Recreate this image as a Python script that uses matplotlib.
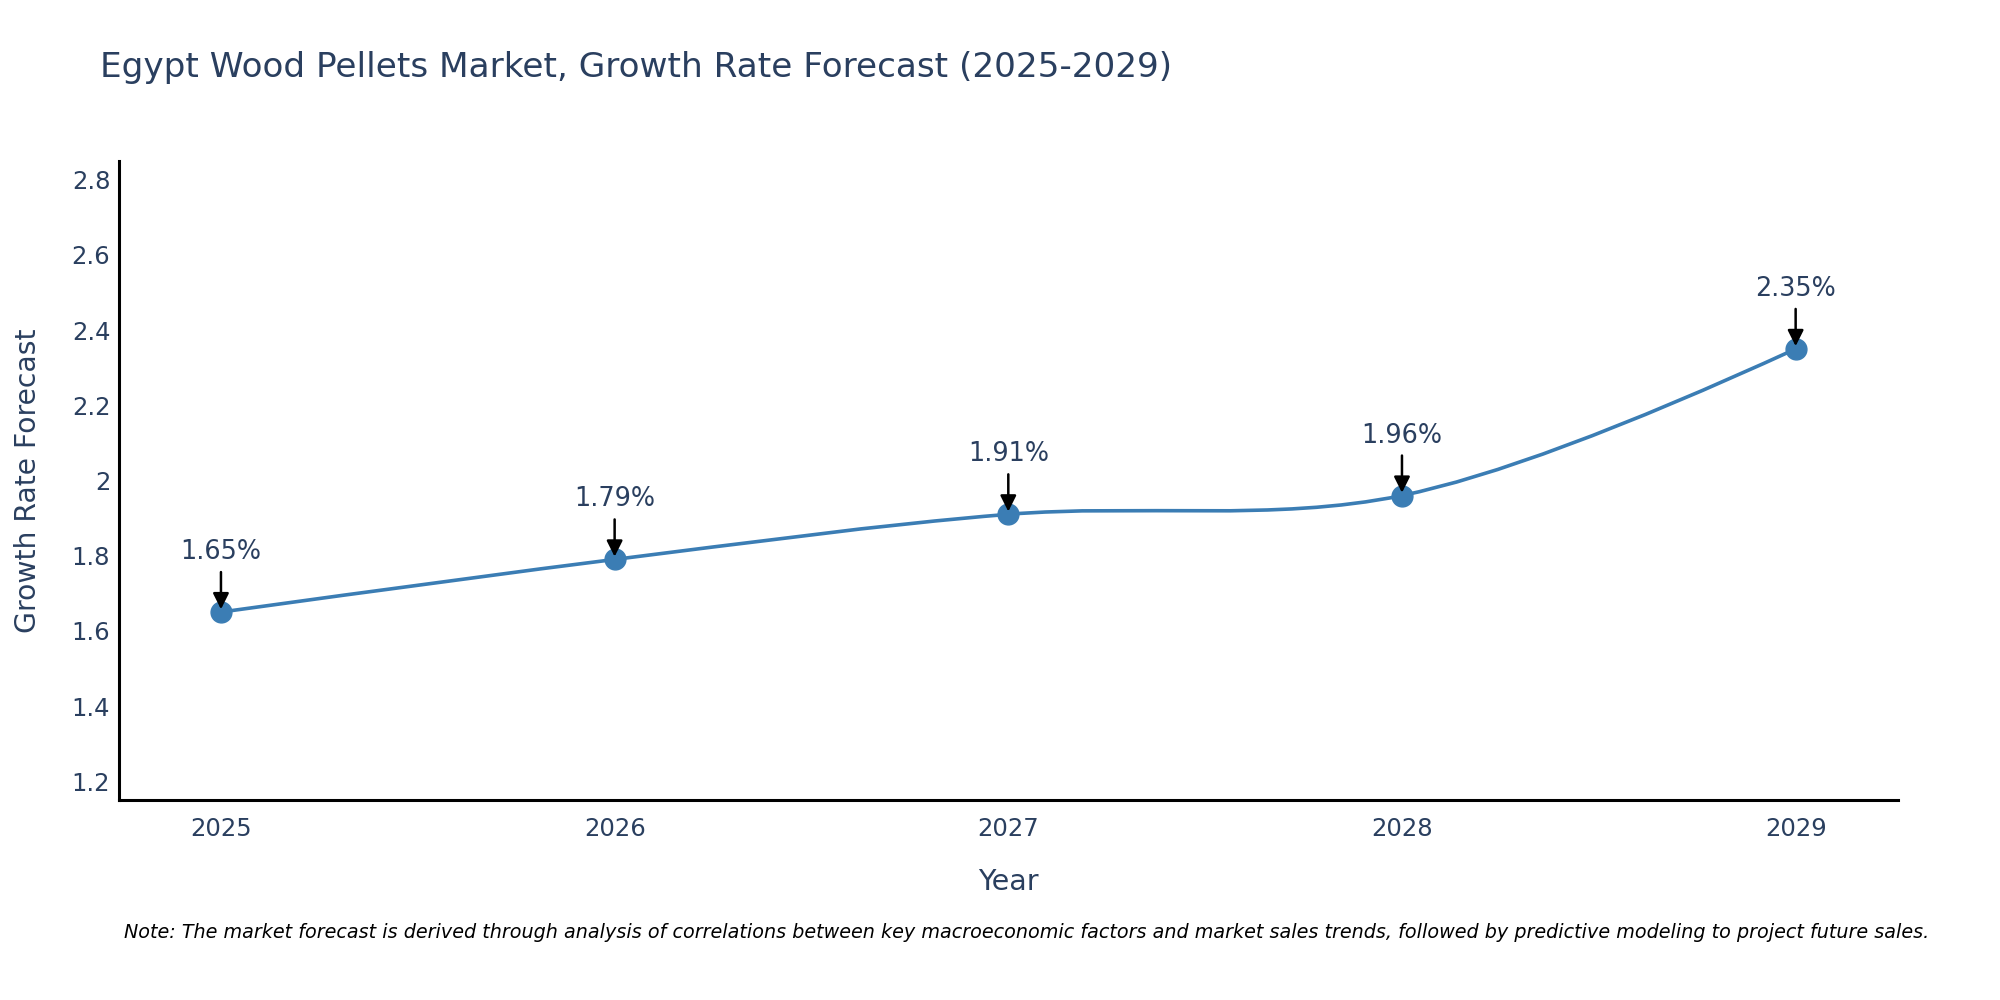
import numpy as np
import matplotlib
matplotlib.use("Agg")
import matplotlib.pyplot as plt
from matplotlib.path import Path
from matplotlib.patches import PathPatch

years = [2025, 2026, 2027, 2028, 2029]
growth = [1.65, 1.79, 1.91, 1.96, 2.35]
labels = ["1.65%", "1.79%", "1.91%", "1.96%", "2.35%"]
y_ticks = [1.2, 1.4, 1.6, 1.8, 2.0, 2.2, 2.4, 2.6, 2.8]
y_tick_labels = ["1.2", "1.4", "1.6", "1.8", "2", "2.2", "2.4", "2.6", "2.8"]

title = "Egypt Wood Pellets Market, Growth Rate Forecast (2025-2029)"
note = ("Note: The market forecast is derived through analysis of correlations between key "
        "macroeconomic factors and market sales trends, followed by predictive modeling to "
        "project future sales.")

text_col = "#2a3f5f"
line_col = "#3b7db4"

plt.rcParams["font.family"] = ["DejaVu Sans"]

fig = plt.figure(figsize=(20, 10), dpi=100)
ax = fig.add_axes([0.0593, 0.200, 0.8897, 0.639])
ax.set_xlim(years[0] - 0.26, years[-1] + 0.26)
ax.set_ylim(min(growth) - 0.5, max(growth) + 0.5)


def tangent(p0, p1, p2, smooth=1.0):
    # plotly-style catmull-rom tangents, in pixel space
    d1 = p0 - p1
    d2 = p2 - p1
    d1a = np.hypot(*d1) ** 0.5
    d2a = np.hypot(*d2) ** 0.5
    num = (d2a * d2a * d1 - d1a * d1a * d2) * smooth
    den1 = 3 * d2a * (d1a + d2a)
    den2 = 3 * d1a * (d1a + d2a)
    return p1 + num / den1, p1 - num / den2


pix = ax.transData.transform(np.column_stack([years, growth]))
tans = [tangent(pix[i - 1], pix[i], pix[i + 1]) for i in range(1, len(pix) - 1)]
verts = [pix[0], tans[0][0], pix[1]]
codes = [Path.MOVETO, Path.CURVE3, Path.CURVE3]
for i in range(2, len(pix) - 1):
    verts += [tans[i - 2][1], tans[i - 1][0], pix[i]]
    codes += [Path.CURVE4] * 3
verts += [tans[-1][1], pix[-1]]
codes += [Path.CURVE3] * 2
verts = ax.transData.inverted().transform(np.array(verts))
ax.add_patch(PathPatch(Path(verts, codes), facecolor="none", edgecolor=line_col,
                       lw=2.6, zorder=2))

ax.plot(years, growth, "o", color=line_col, markersize=15, zorder=3)

for x, y, lab in zip(years, growth, labels):
    ax.annotate("", xy=(x, y), xytext=(0, 40), textcoords="offset pixels",
                arrowprops=dict(arrowstyle="-|>", color="black", lw=1.8,
                                mutation_scale=24, shrinkA=0, shrinkB=2), zorder=4)
    ax.annotate(lab, xy=(x, y), xytext=(0, 60), textcoords="offset pixels",
                ha="center", va="center", fontsize=18.4, color=text_col, zorder=4)

ax.set_xticks(years)
ax.set_xticklabels([str(y) for y in years])
ax.set_yticks(y_ticks)
ax.set_yticklabels(y_tick_labels)
ax.tick_params(axis="both", length=0, labelsize=17.5, labelcolor=text_col)
ax.tick_params(axis="x", pad=12)
ax.tick_params(axis="y", pad=6)

for side in ["top", "right"]:
    ax.spines[side].set_visible(False)
for side in ["left", "bottom"]:
    ax.spines[side].set_linewidth(2.2)
    ax.spines[side].set_color("black")

ax.set_xlabel("Year", fontsize=20.5, color=text_col, labelpad=20)
ax.set_ylabel("Growth Rate Forecast", fontsize=20.3, color=text_col, labelpad=21)

fig.text(0.05, 0.932, title, fontsize=24.7, color=text_col, va="center", ha="left")
fig.text(0.062, 0.068, note, fontsize=13.8, style="italic", color="black",
         va="center", ha="left")

fig.savefig("out.png", dpi=100)
